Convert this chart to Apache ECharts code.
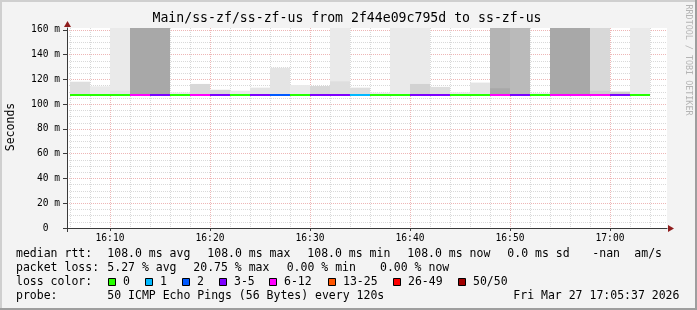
<!DOCTYPE html>
<html><head><meta charset="utf-8">
<script src="https://cdn.jsdelivr.net/npm/echarts@6/dist/echarts.min.js"></script>
<style>html,body{margin:0;padding:0;background:#f3f3f3}#c{width:697px;height:310px}</style>
</head><body><div id="c"></div><script>
// ---------------- data ----------------
const titleText = "Main/ss-zf/ss-zf-us from 2f44e09c795d to ss-zf-us";
const yAxisName = "Seconds";
const watermark = "RRDTOOL / TOBI OETIKER";
const axisStart = "16:05:42";
const axisEnd = "17:05:42";
const xTickLabels = ["16:10", "16:20", "16:30", "16:40", "16:50", "17:00"];
const yTickValues = [0, 20, 40, 60, 80, 100, 120, 140, 160];
const yMax = 161.6;
const stepSeconds = 120;
const stepStart = ["16:06","16:08","16:10","16:12","16:14","16:16","16:18","16:20","16:22","16:24",
                   "16:26","16:28","16:30","16:32","16:34","16:36","16:38","16:40","16:42","16:44",
                   "16:46","16:48","16:50","16:52","16:54","16:56","16:58","17:00","17:02"];
const medianMs = [108.0,108.0,108.0,108.0,108.0,108.0,108.0,108.0,108.0,108.0,
                  108.0,108.0,108.0,108.0,108.0,108.0,108.0,108.0,108.0,108.0,
                  108.0,108.0,108.0,108.0,108.0,108.0,108.0,108.0,108.0];
const lossPct = [0,0,0,20.75,6,0,12,6,0,6,
                 4,0,6,8,2,0,0,6,6,0,
                 0,14,8,0,16,14,12,6,0];
// outer smoke band: top value (ms) and number of pings in band (shading)
const smokeTop = [118.2,114.5,175,175,175,109.5,116.4,111.7,110.9,113.4,
                  129.4,115.5,114.7,175,113.4,109.4,175,175,114.0,109.6,
                  117.5,175,175,109.0,175,175,175,110.2,175];
const smokeShade = [3,1,1,12,12,1,4,4,1,2,
                    2,1,4,1,3,1,1,1,3,1,
                    2,10,9,1,12,12,4,6,1];
// inner (denser) smoke band
const innerTop = [null,null,110.8,null,null,null,null,null,null,null,
                  null,null,null,118.5,null,null,null,116.4,null,null,
                  null,112.9,null,null,null,null,110.9,null,null];
const innerShade = [0,0,2,0,0,0,0,0,0,0,
                    0,0,0,3,0,0,0,5,0,0,
                    0,12,0,0,0,0,6,0,0];
const lossLegendLabels = ["0", "1", "2", "3-5", "6-12", "13-25", "26-49", "50/50"];
const lossLegendMaxPings = [0, 1, 2, 5, 12, 25, 49, 50];
const lossColors = ["#26ff00", "#00b8ff", "#0059ff", "#7e00ff", "#ff00ff", "#ff5500", "#ff0000", "#a10000"];
const pingsPerStep = 50;
const probeText = "50 ICMP Echo Pings (56 Bytes) every 120s";
const dateText = "Fri Mar 27 17:05:37 2026";

// ---------------- helpers ----------------
const MONO = "'DejaVu Sans Mono', monospace";
function toSec(s) { const p = s.split(':').map(Number); return p[0]*3600 + p[1]*60 + (p[2] || 0); }
function hhmm(v) { const h = Math.floor(v/3600), m = Math.round((v - h*3600)/60); return h + ':' + String(m).padStart(2,'0'); }
function shadeGray(n) { const g = Math.round(240 - 6*n); return 'rgb(' + g + ',' + g + ',' + g + ')'; }
function lossColor(pct) {
  const pings = pct * pingsPerStep / 100;
  for (let k = 0; k < lossLegendMaxPings.length; k++) if (pings <= lossLegendMaxPings[k]) return lossColors[k];
  return lossColors[lossColors.length - 1];
}
const T0 = toSec(axisStart), T1 = toSec(axisEnd);
const majorX = xTickLabels.map(toSec);
const minorX = [];
for (let t = Math.ceil(T0/stepSeconds)*stepSeconds; t < T1; t += stepSeconds) if (majorX.indexOf(t) < 0) minorX.push(t);
const minorY = [];
for (let v = 5; v < yMax; v += 5) if (yTickValues.indexOf(v) < 0) minorY.push(v);

const smokeData = [], medianData = [];
stepStart.forEach((s, i) => {
  const a = toSec(s), b = a + stepSeconds;
  smokeData.push([a, b, medianMs[i], smokeTop[i], smokeShade[i]]);
  if (innerTop[i] != null) smokeData.push([a, b, medianMs[i], innerTop[i], innerShade[i]]);
  medianData.push([a, b, medianMs[i], lossPct[i]]);
});

// stats
const mean = arr => arr.reduce((s, v) => s + v, 0) / arr.length;
const mAvg = mean(medianMs), mMax = Math.max(...medianMs), mMin = Math.min(...medianMs), mNow = medianMs[medianMs.length-1];
const mSd = Math.sqrt(mean(medianMs.map(v => (v - mAvg) ** 2)));
const lAvg = mean(lossPct), lMax = Math.max(...lossPct), lMin = Math.min(...lossPct), lNow = lossPct[lossPct.length-1];

// ---------------- chart ----------------
const G = { left: 67, right: 30, top: 28, bottom: 82 };
const W = 697, H = 310;
const chart = echarts.init(document.getElementById('c'), null, { renderer: 'canvas', width: W, height: H });

const majorLine = { color: '#eeb6b6', width: 1, type: [1, 1] };
const minorLine = { color: '#d9d9d9', width: 1, type: [1, 1] };
const axisColor = '#3a3a3a';
const arrowColor = '#8f1d1d';

function txt(text, x, y, size, opts) {
  return Object.assign({
    type: 'text', x: x, y: y, silent: true,
    style: Object.assign({ text: text, fontFamily: MONO, fontSize: size, fill: '#000',
      align: 'left', verticalAlign: 'middle', textAlign: 'left', textVerticalAlign: 'middle' }, (opts && opts.style) || {})
  }, (opts && opts.el) || {});
}

const gx0 = G.left, gx1 = W - G.right, gy0 = G.top, gy1 = H - G.bottom;
const graphics = [
  // frame
  { type: 'rect', shape: { x: 0, y: 0, width: W, height: 2 }, style: { fill: '#cfcfcf' }, silent: true },
  { type: 'rect', shape: { x: 0, y: 0, width: 2, height: H }, style: { fill: '#cfcfcf' }, silent: true },
  { type: 'rect', shape: { x: W-2, y: 0, width: 2, height: H }, style: { fill: '#9e9e9e' }, silent: true },
  { type: 'rect', shape: { x: 0, y: H-2, width: W, height: 2 }, style: { fill: '#9e9e9e' }, silent: true },
  // axis extensions past origin
  { type: 'line', shape: { x1: gx0 - 4, y1: gy1 + 0.5, x2: gx0, y2: gy1 + 0.5 }, style: { stroke: axisColor, lineWidth: 1 }, silent: true },
  { type: 'line', shape: { x1: gx0 + 0.5, y1: gy1, x2: gx0 + 0.5, y2: gy1 + 4 }, style: { stroke: axisColor, lineWidth: 1 }, silent: true },
  // axis arrows
  { type: 'polygon', shape: { points: [[gx0-3, gy0-1], [gx0+4, gy0-1], [gx0+0.5, gy0-7]] }, style: { fill: arrowColor }, silent: true, z: 10 },
  { type: 'polygon', shape: { points: [[gx1+1, gy1-3], [gx1+1, gy1+4], [gx1+7, gy1+0.5]] }, style: { fill: arrowColor }, silent: true, z: 10 },
  // title and side texts
  txt(titleText, 347, 19, 13.2, { style: { align: 'center', textAlign: 'center' } }),
  txt(yAxisName, 11, 127, 11.5, { style: { align: 'center', textAlign: 'center' }, el: { rotation: Math.PI/2 } }),
  txt(watermark, 688, 60, 8.4, { style: { align: 'center', textAlign: 'center', fill: '#b4b4b4' }, el: { rotation: -Math.PI/2 } }),
  // legend rows
  txt("median rtt:", 16, 254.5, 11.5),
  txt(mAvg.toFixed(1) + " ms avg", 107.3, 254.5, 11.5),
  txt(mMax.toFixed(1) + " ms max", 207.3, 254.5, 11.5),
  txt(mMin.toFixed(1) + " ms min", 307.3, 254.5, 11.5),
  txt(mNow.toFixed(1) + " ms now", 407.3, 254.5, 11.5),
  txt(mSd.toFixed(1) + " ms sd", 507.3, 254.5, 11.5),
  txt("-nan", 592.3, 254.5, 11.5),
  txt("am/s", 634.3, 254.5, 11.5),
  txt("packet loss:", 16, 268.3, 11.5),
  txt(lAvg.toFixed(2) + " % avg", 107.3, 268.3, 11.5),
  txt(lMax.toFixed(2) + " % max", 193.3, 268.3, 11.5),
  txt(lMin.toFixed(2) + " % min", 286.7, 268.3, 11.5),
  txt(lNow.toFixed(2) + " % now", 380, 268.3, 11.5),
  txt("loss color:", 16, 282.3, 11.5),
  txt("probe:", 16, 296.3, 11.5),
  txt(probeText, 107.3, 296.3, 11.5),
  txt(dateText, 513.3, 296.3, 11.5)
];
const legendBoxX = [108.5, 145.5, 182.5, 219.5, 269.5, 328.5, 393.5, 458.5];
lossLegendLabels.forEach((lab, k) => {
  graphics.push({ type: 'rect', shape: { x: legendBoxX[k], y: 278.5, width: 7, height: 7 },
    style: { fill: lossColors[k], stroke: '#000', lineWidth: 1 }, silent: true });
  graphics.push(txt(lab, legendBoxX[k] + 14.5, 282.3, 11.5));
});

const option = {
  animation: false,
  backgroundColor: '#f3f3f3',
  grid: { left: G.left, right: G.right, top: G.top, bottom: G.bottom, show: true, backgroundColor: '#ffffff', borderWidth: 0, containLabel: false },
  xAxis: [
    { type: 'value', min: T0, max: T1, position: 'bottom',
      axisLine: { show: true, onZero: false, lineStyle: { color: axisColor, width: 1 } },
      axisTick: { show: true, customValues: majorX, length: 3, lineStyle: { color: axisColor } },
      axisLabel: { show: true, customValues: majorX, formatter: v => hhmm(v), fontFamily: MONO, fontSize: 9.6, color: '#000', margin: 5 },
      splitLine: { show: true, lineStyle: majorLine } },
    { type: 'value', min: T0, max: T1, position: 'bottom',
      axisLine: { show: false }, axisTick: { show: false, customValues: minorX }, axisLabel: { show: false },
      splitLine: { show: true, lineStyle: minorLine } }
  ],
  yAxis: [
    { type: 'value', min: 0, max: yMax, interval: 20, position: 'left',
      axisLine: { show: true, onZero: false, lineStyle: { color: axisColor, width: 1 } },
      axisTick: { show: true, customValues: yTickValues, length: 4, lineStyle: { color: axisColor } },
      axisLabel: { show: true, customValues: yTickValues, formatter: v => v === 0 ? '0  ' : (v + ' m'), fontFamily: MONO, fontSize: 9.6, color: '#000', margin: 7 },
      splitLine: { show: true, lineStyle: majorLine } },
    { type: 'value', min: 0, max: yMax, position: 'left',
      axisLine: { show: false }, axisTick: { show: false, customValues: minorY }, axisLabel: { show: false },
      splitLine: { show: true, lineStyle: minorLine } }
  ],
  series: [
    { type: 'custom', name: 'smoke', xAxisIndex: 0, yAxisIndex: 0, data: smokeData, z: 3,
      renderItem: function (params, api) {
        const p1 = api.coord([api.value(0), api.value(3)]);
        const p2 = api.coord([api.value(1), api.value(2)]);
        const cs = params.coordSys;
        const r = echarts.graphic.clipRectByRect(
          { x: p1[0], y: p1[1], width: p2[0] - p1[0], height: p2[1] - p1[1] },
          { x: cs.x, y: cs.y, width: cs.width, height: cs.height });
        if (!r) return;
        return { type: 'rect', shape: r, style: { fill: shadeGray(api.value(4)) } };
      } },
    { type: 'custom', name: 'median', xAxisIndex: 0, yAxisIndex: 0, data: medianData, z: 4,
      renderItem: function (params, api) {
        const p1 = api.coord([api.value(0), api.value(2)]);
        const p2 = api.coord([api.value(1), api.value(2)]);
        const y = Math.ceil(p1[1]);
        return { type: 'rect', shape: { x: p1[0], y: y - 1, width: p2[0] - p1[0], height: 2 },
                 style: { fill: lossColor(api.value(3)) } };
      } }
  ],
  graphic: { elements: graphics }
};
chart.setOption(option);
</script></body></html>
